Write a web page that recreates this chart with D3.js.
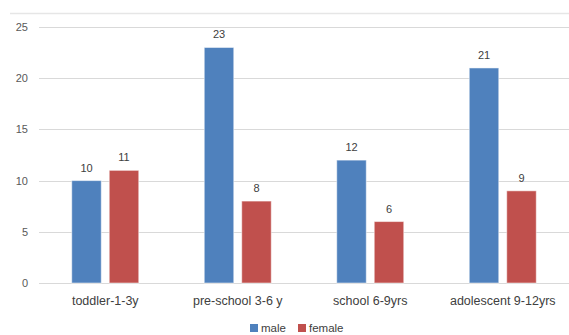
<!DOCTYPE html>
<html><head><meta charset="utf-8">
<script src="https://cdn.jsdelivr.net/npm/d3@7"></script>
<style>body{margin:0;background:#fff}svg{display:block}text{font-family:"Liberation Sans",Arial,sans-serif}</style>
</head><body><svg id="c" width="569" height="335"></svg>
<script>
const categories = ["toddler-1-3y","pre-school 3-6 y","school 6-9yrs","adolescent 9-12yrs"];
const seriesNames = ["male","female"];
const male = [10,23,12,21];
const female = [11,8,6,9];
const yTicks = [0,5,10,15,20,25];
const colors = ["#4F81BD","#C0504D"];

(function(){
const svg = d3.select("#c");
const pL = 39, pR = 569, pT = 27, pB = 283;
const x = d3.scaleBand().domain(categories).range([pL,pR]).paddingInner(0).paddingOuter(0);
const y = d3.scaleLinear().domain([0,25]).range([pB,pT]);
const x1 = d3.scaleBand().domain(seriesNames).range([0,67]).paddingInner(0.213);
const groupOff = (x.bandwidth()-67)/2;

svg.append("line").attr("x1",10).attr("x2",569).attr("y1",13.5).attr("y2",13.5).attr("stroke","#e6e6e6").attr("stroke-width",1.5);

svg.append("g").selectAll("line").data(yTicks).join("line")
  .attr("x1",pL).attr("x2",pR).attr("y1",d=>Math.round(y(d))+0.5).attr("y2",d=>Math.round(y(d))+0.5)
  .attr("stroke","#d9d9d9").attr("stroke-width",1);

const yAxis = d3.axisLeft(y).tickValues(yTicks).tickSize(0).tickPadding(0);
const ga = svg.append("g").attr("transform",`translate(28,0)`).call(yAxis);
ga.select(".domain").remove();
ga.selectAll("text").attr("fill","#595959").style("font-size","11px").style("font-family","Liberation Sans, Arial, sans-serif");

const data = categories.map((c,i)=>({c, vals:[{s:"male",v:male[i]},{s:"female",v:female[i]}]}));
const g = svg.append("g").selectAll("g").data(data).join("g")
  .attr("transform",d=>`translate(${x(d.c)+groupOff},0)`);
g.selectAll("rect").data(d=>d.vals).join("rect")
  .attr("x",d=>x1(d.s)).attr("width",x1.bandwidth())
  .attr("y",d=>y(d.v)).attr("height",d=>y(0)-y(d.v))
  .attr("fill",(d,i)=>colors[i]).attr("stroke","#ffffff").attr("stroke-opacity",0.5).attr("stroke-width",1);
g.selectAll("text").data(d=>d.vals).join("text")
  .attr("x",d=>x1(d.s)+x1.bandwidth()/2).attr("y",d=>y(d.v)-9)
  .attr("text-anchor","middle").attr("fill","#404040").style("font-size","11px").text(d=>d.v);

const xAxis = d3.axisBottom(x).tickSize(0).tickPadding(0);
const gx = svg.append("g").attr("transform",`translate(0,${pB+13})`).call(xAxis);
gx.select(".domain").remove();
gx.selectAll("text").attr("fill","#404040").style("font-size","12.5px").style("font-family","Liberation Sans, Arial, sans-serif");

const leg = svg.append("g");
const legX = [250,298];
seriesNames.forEach((s,i)=>{
  leg.append("rect").attr("x",legX[i]).attr("y",324).attr("width",8).attr("height",8).attr("fill",colors[i]);
  leg.append("text").attr("x",legX[i]+11).attr("y",332).attr("fill","#404040").style("font-size","11.5px").text(s);
});
})();
</script></body></html>
